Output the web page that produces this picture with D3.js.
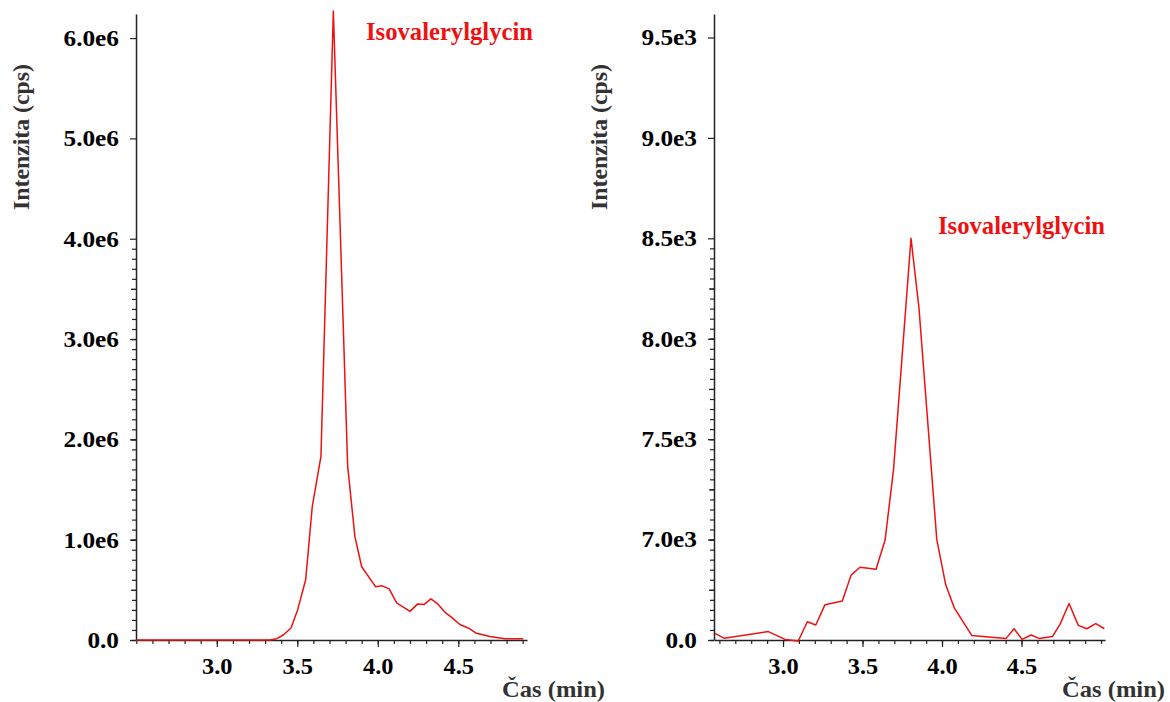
<!DOCTYPE html>
<html>
<head>
<meta charset="utf-8">
<script src="https://cdn.jsdelivr.net/npm/d3@7"></script>
<style>
    body { margin: 0; background: #fff; }
    svg text { font-family: "Liberation Serif", "Times New Roman", serif; font-weight: 700; }
</style>
</head>
<body>
<svg id="chart" width="1170" height="702"></svg>
<script>
// Data (time in min, intensity in cps)
const leftTime = [2.50, 2.80, 3.10, 3.33, 3.372, 3.413, 3.461, 3.502, 3.552, 3.593, 3.647, 3.724, 3.813,
    3.858, 3.90, 3.987, 4.028, 4.071, 4.117, 4.20, 4.248, 4.289, 4.33, 4.372, 4.422, 4.463, 4.51,
    4.562, 4.608, 4.697, 4.79, 4.904];
const leftIntensity = [0, 0, 0, 0, 13000, 50000, 120000, 300000, 600000, 1330000, 1830000, 6270000, 1730000,
    1030000, 730000, 530000, 540000, 510000, 370000, 285000, 360000, 355000, 410000, 360000, 270000, 220000, 155000,
    120000, 70000, 35000, 13000, 13000];

const rightTime = [2.572, 2.629, 2.908, 3.013, 3.096, 3.153, 3.206, 3.264, 3.373, 3.428, 3.484, 3.585, 3.642,
    3.695, 3.805, 3.855, 3.967, 4.023, 4.077, 4.187, 4.403, 4.453, 4.503, 4.560, 4.610, 4.694, 4.742,
    4.799, 4.857, 4.910, 4.967, 5.021];
const rightIntensity = [6533, 6509, 6542, 6503, 6495, 6591, 6575, 6676, 6694, 6823, 6862, 6852, 6998,
    7348, 8500, 8154, 7001, 6776, 6660, 6523, 6508, 6556, 6503, 6525, 6508, 6517, 6578,
    6682, 6573, 6556, 6582, 6556];

// Tick values and labels
const xTicks = [3.0, 3.5, 4.0, 4.5];
const xTickLabels = ["3.0", "3.5", "4.0", "4.5"];
const leftYTicks = [0, 1e6, 2e6, 3e6, 4e6, 5e6, 6e6];
const leftYTickLabels = ["0.0", "1.0e6", "2.0e6", "3.0e6", "4.0e6", "5.0e6", "6.0e6"];
const rightYTicks = [6500, 7000, 7500, 8000, 8500, 9000, 9500];
const rightYTickLabels = ["0.0", "7.0e3", "7.5e3", "8.0e3", "8.5e3", "9.0e3", "9.5e3"];

const compound = "Isovalerylglycin";
const xTitle = "Čas (min)";
const yTitle = "Intenzita (cps)";

const svg = d3.select("#chart");
const lineColor = "#ee1111";
const axisColor = "#222";

// widen glyphs a little, the source picture is stretched horizontally
function stretch(sel, factor) {
    sel.each(function() {
        const w = this.getComputedTextLength();
        d3.select(this).attr("textLength", w * factor).attr("lengthAdjust", "spacingAndGlyphs");
    });
}

function drawPanel(p) {
    const x = d3.scaleLinear().domain(p.xDomain).range([p.left, p.right]);
    const y = d3.scaleLinear().domain(p.yDomain).range([p.bottom, p.top]);
    const g = svg.append("g");

    // minor x ticks every 0.1 min
    const xMinor = d3.range(20, 55).map(v => v / 10)
        .filter(v => v >= p.xDomain[0] - 1e-9 && v <= p.xDomain[1] + 1e-9);
    g.append("g")
        .attr("transform", `translate(0,${p.bottom})`)
        .call(d3.axisBottom(x).tickValues(xMinor).tickSize(4).tickSizeOuter(0).tickFormat(""))
        .call(a => a.select(".domain").remove());

    const xAxis = g.append("g")
        .attr("transform", `translate(0,${p.bottom})`)
        .call(d3.axisBottom(x).tickValues(xTicks).tickSize(7).tickSizeOuter(0).tickPadding(11)
            .tickFormat((d, i) => xTickLabels[i]));
    xAxis.selectAll("text").style("font-size", "23px").attr("fill", "#000");

    // y ticks: minor, mid, major
    const step = p.yTicks[1] - p.yTicks[0];
    const yMinor = d3.range(0, 40).map(i => p.yTicks[0] + i * step / 10).filter(v => v <= p.yDomain[1]);
    const yMid = d3.range(0, 8).map(i => p.yTicks[0] + i * step / 2).filter(v => v <= p.yDomain[1]);
    g.append("g")
        .attr("transform", `translate(${p.left},0)`)
        .call(d3.axisLeft(y).tickValues(yMinor).tickSize(4).tickSizeOuter(0).tickFormat(""))
        .call(a => a.select(".domain").remove());
    g.append("g")
        .attr("transform", `translate(${p.left},0)`)
        .call(d3.axisLeft(y).tickValues(yMid).tickSize(5).tickSizeOuter(0).tickFormat(""))
        .call(a => a.select(".domain").remove());
    const yAxis = g.append("g")
        .attr("transform", `translate(${p.left},0)`)
        .call(d3.axisLeft(y).tickValues(p.yTicks).tickSize(6).tickSizeOuter(0).tickPadding(11)
            .tickFormat((d, i) => p.yLabels[i]));
    yAxis.selectAll("text").style("font-size", "23px").attr("fill", "#000");

    g.selectAll(".domain").attr("stroke", axisColor).attr("stroke-width", 1.5);
    g.selectAll(".tick line").attr("stroke", axisColor).attr("stroke-width", 1.2);

    stretch(xAxis.selectAll("text"), 1.06);
    stretch(yAxis.selectAll("text"), 1.1);

    // trace
    const line = d3.line().x(d => x(d[0])).y(d => y(d[1]));
    g.append("path")
        .datum(d3.zip(p.time, p.intensity))
        .attr("d", line)
        .attr("fill", "none")
        .attr("stroke", lineColor)
        .attr("stroke-width", 1.5)
        .attr("stroke-linejoin", "round");

    // compound label
    g.append("text")
        .attr("x", p.labelX)
        .attr("y", p.labelY)
        .attr("fill", lineColor)
        .style("font-size", "25px")
        .attr("textLength", 167)
        .attr("lengthAdjust", "spacingAndGlyphs")
        .text(compound);

    // axis titles
    g.append("text")
        .attr("x", p.xTitleEnd)
        .attr("y", 697)
        .attr("text-anchor", "end")
        .attr("fill", "#333")
        .style("font-size", "23px")
        .attr("textLength", 103)
        .attr("lengthAdjust", "spacingAndGlyphs")
        .text(xTitle);

    g.append("text")
        .attr("transform", `translate(${p.left - 107},137) rotate(-90)`)
        .attr("text-anchor", "middle")
        .attr("fill", "#333")
        .style("font-size", "23px")
        .attr("textLength", 146)
        .attr("lengthAdjust", "spacingAndGlyphs")
        .text(yTitle);
}

drawPanel({
    left: 136, right: 527, top: 14, bottom: 640,
    xDomain: [2.498, 4.927], yDomain: [0, 6.24e6],
    yTicks: leftYTicks, yLabels: leftYTickLabels,
    time: leftTime, intensity: leftIntensity,
    labelX: 366, labelY: 40, xTitleEnd: 605
});

drawPanel({
    left: 714, right: 1105, top: 14, bottom: 640,
    xDomain: [2.566, 5.025], yDomain: [6500, 9617],
    yTicks: rightYTicks, yLabels: rightYTickLabels,
    time: rightTime, intensity: rightIntensity,
    labelX: 938, labelY: 234, xTitleEnd: 1165
});
</script>
</body>
</html>
